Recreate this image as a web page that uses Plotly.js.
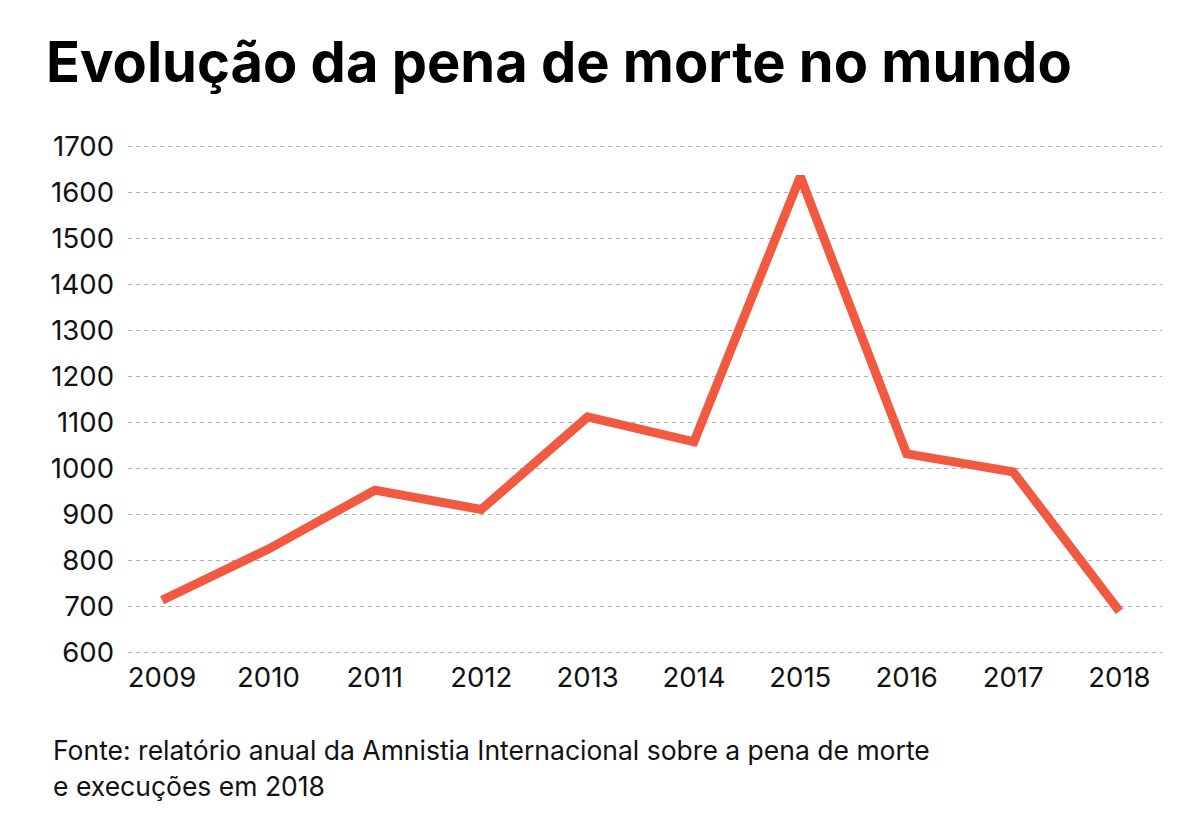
<!DOCTYPE html>
<html>
<head>
<meta charset="utf-8">
<script src="https://cdn.plot.ly/plotly-3.0.1.min.js"></script>
<style>html,body{margin:0;padding:0;background:#fff;}#chart{width:1200px;height:839px;}</style>
</head>
<body>
<div id="chart"></div>
<script>
const years = [2009, 2010, 2011, 2012, 2013, 2014, 2015, 2016, 2017, 2018];
const executions = [714, 825, 953, 911, 1112, 1058, 1634, 1032, 993, 690];
const yTicks = [600, 700, 800, 900, 1000, 1100, 1200, 1300, 1400, 1500, 1600, 1700];
const titleText = "Evolução da pena de morte no mundo";
const sourceLines = ["Fonte: relatório anual da Amnistia Internacional sobre a pena de morte", "e execuções em 2018"];

const FONT = "Inter, 'Noto Sans', sans-serif";

const trace = {
  x: years, y: executions, type: 'scatter', mode: 'lines',
  line: {color: '#f15a40', width: 9, shape: 'linear'},
  hoverinfo: 'x+y'
};

const layout = {
  width: 1200, height: 839,
  paper_bgcolor: '#fff', plot_bgcolor: '#fff',
  margin: {l: 128, r: 38, t: 144, b: 184},
  showlegend: false,
  title: {
    text: '<b>' + titleText + '</b>',
    x: 46/1200, xanchor: 'left', xref: 'container',
    y: 1 - 62/839, yanchor: 'middle', yref: 'container',
    font: {family: FONT, size: 56, color: '#000', weight: 900}
  },
  xaxis: {
    range: [2008.68, 2018.40],
    tickvals: years, ticktext: years.map(String),
    showgrid: false, zeroline: false, showline: false,
    ticks: '', ticklabelstandoff: 3,
    tickfont: {family: FONT, size: 27.5, color: '#111'}
  },
  yaxis: {
    range: [595, 1705],
    tickvals: yTicks, ticktext: yTicks.map(String),
    showgrid: true, gridcolor: '#b4b4b4', gridwidth: 1.3, griddash: '4px,4px',
    zeroline: false, showline: false, ticks: '', ticklabelstandoff: 13,
    tickfont: {family: FONT, size: 27.5, color: '#111'}
  },
  annotations: sourceLines.map((t, i) => ({
    text: t, showarrow: false,
    xref: 'paper', yref: 'paper', x: 0, xanchor: 'left', xshift: -77,
    y: 0, yanchor: 'middle', yshift: -(95 + 36*i),
    font: {family: FONT, size: 26.5, color: '#111'}
  }))
};

Plotly.newPlot('chart', [trace], layout, {displayModeBar: false, staticPlot: false});
</script>
</body>
</html>
